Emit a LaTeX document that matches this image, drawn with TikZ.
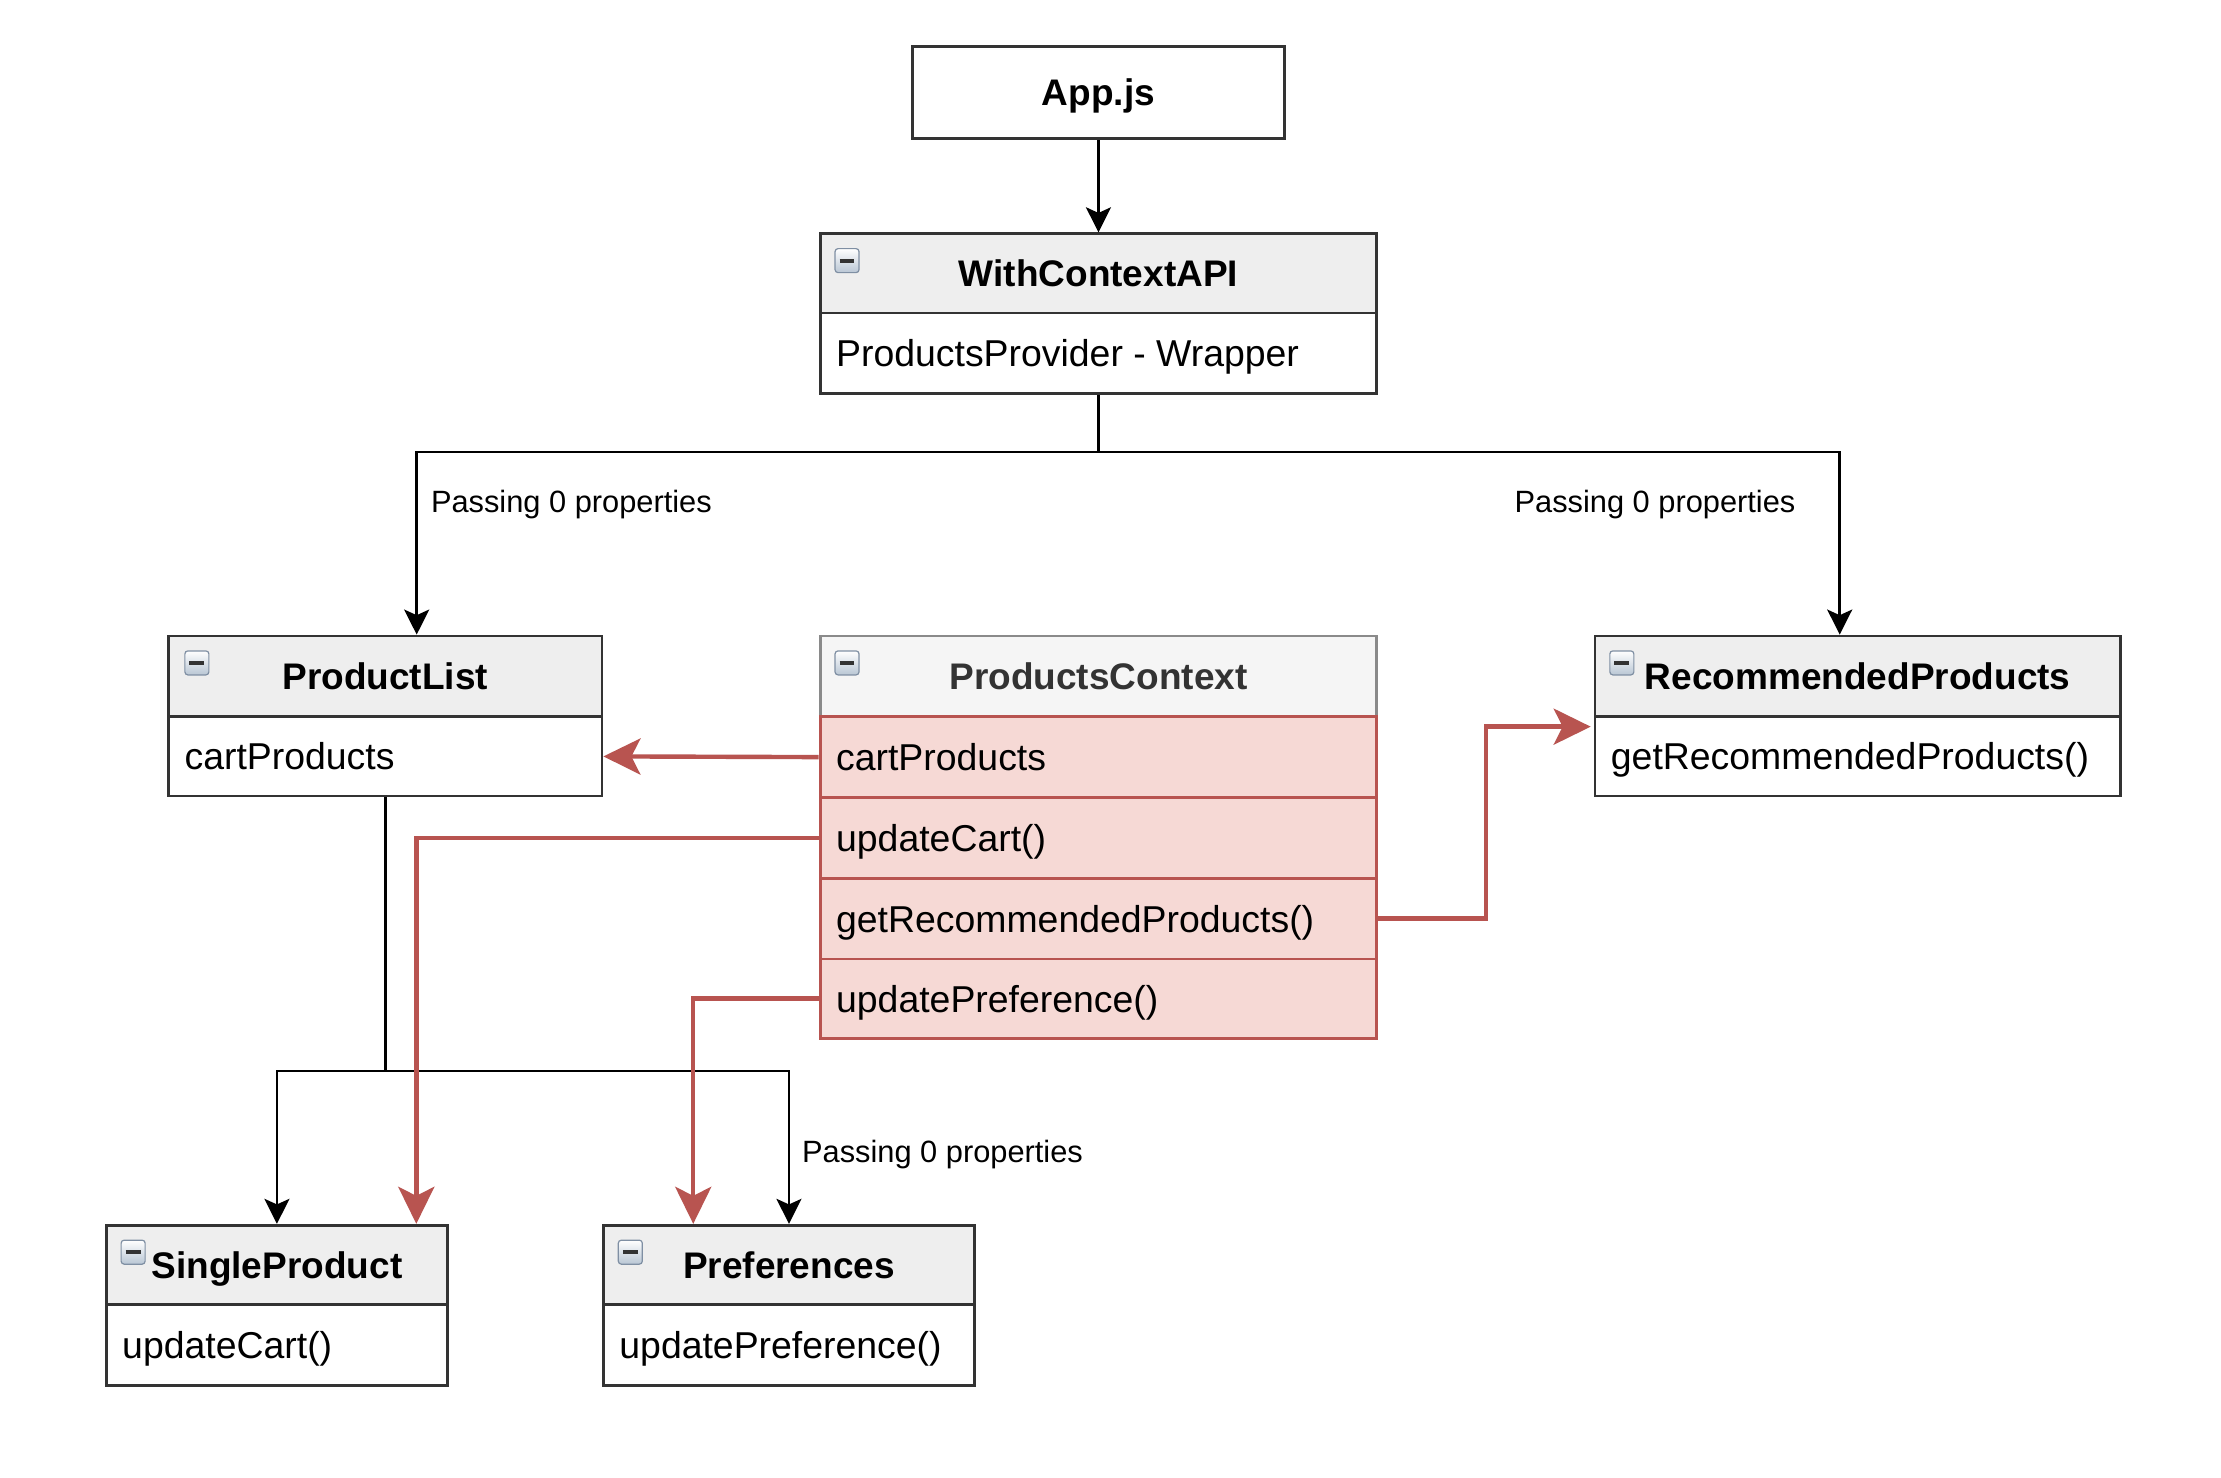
\documentclass[tikz,border=0pt]{standalone}
\usepackage{fontspec}
\setmainfont{Liberation Sans}
\usetikzlibrary{arrows.meta,calc,fit}
\definecolor{hdrgray}{HTML}{EEEEEE}
\definecolor{ctxhdr}{HTML}{F5F5F5}
\definecolor{ctxedge}{HTML}{8A8A8A}
\definecolor{ctxtext}{HTML}{333333}
\definecolor{ctxpink}{HTML}{F6D9D5}
\definecolor{ctxred}{HTML}{B85450}
\definecolor{boxline}{HTML}{333333}
\definecolor{iconblue}{HTML}{B9C6D4}
\definecolor{iconedge}{HTML}{7F8FA3}
\newlength\ulen \setlength\ulen{0.7082pt}
\begin{document}
\begin{tikzpicture}[x=\ulen, y=-\ulen,
  box/.style={draw=boxline, line width=1.4pt, inner sep=0pt},
  hdr/.style={box, fill=hdrgray},
  rowbox/.style={box, fill=white},
  ctxhead/.style={draw=ctxedge, line width=1.4pt, inner sep=0pt, fill=ctxhdr},
  ctxrow/.style={draw=ctxred, line width=1.4pt, inner sep=0pt, fill=ctxpink},
  title/.style={anchor=base, inner sep=0pt, font=\fontsize{18.5}{22}\selectfont\bfseries},
  rowtext/.style={anchor=base west, inner sep=0pt, font=\fontsize{18.7}{22}\selectfont},
  lbl/.style={anchor=base west, inner sep=0pt, font=\fontsize{15.4}{18}\selectfont},
  blk/.style={draw=black, line width=1.3pt, -{Stealth[length=12.5pt,width=12.5pt,inset=2.8pt]}},
  redarrow/.style={draw=ctxred, line width=2.2pt, -{Stealth[length=18.5pt,width=18pt,inset=4.5pt]}},
  minusicon/.style={draw=iconedge, line width=0.6pt, rounded corners=1.5pt, minimum width=12pt, minimum height=12pt, inner sep=0pt, top color=white, bottom color=iconblue,
    path picture={\draw[line width=2pt, black!80] ($(path picture bounding box.west)+(2.3pt,0)$) -- ($(path picture bounding box.east)+(-2.3pt,0)$);}}
]
\useasboundingbox[fill=white] (0,0) rectangle (1568,1043);

% App.js
\node[box, fill=white, fit={(644,33)(907,98)}] (app) {};
\node[title] (appT) at ($(app.center)+(0,9.3)$) {App.js};

% WithContextAPI
\node[hdr, fit={(579,165)(972,221)}] (wcaH) {};
\node[title] (wcaHT) at ($(wcaH.center)+(0,9.3)$) {WithContextAPI};
\node[rowbox, fit={(579,221)(972,278)}] (wcaR) {};
\node[rowtext] (wcaT) at ($(wcaR.west)+(12,9.5)$) {ProductsProvider - Wrapper};
\node[minusicon] (wcaI) at (598,184) {};

% ProductList
\node[hdr, fit={(119,449)(425,506)}] (plH) {};
\node[title] (plHT) at ($(plH.center)+(0,9.3)$) {ProductList};
\node[rowbox, fit={(119,506)(425,562)}] (plR) {};
\node[rowtext] (plT) at ($(plR.west)+(12,9.5)$) {cartProducts};
\node[minusicon] (plI) at (139,468) {};

% ProductsContext
\node[ctxhead, fit={(579,449)(972,506)}] (ctxH) {};
\node[title, text=ctxtext] (ctxHT) at ($(ctxH.center)+(0,9.3)$) {ProductsContext};
\node[ctxrow, fit={(579,506)(972,563)}] (ctx1) {};
\node[ctxrow, fit={(579,563)(972,620)}] (ctx2) {};
\node[ctxrow, fit={(579,620)(972,677)}] (ctx3) {};
\node[ctxrow, fit={(579,677)(972,733)}] (ctx4) {};
\node[rowtext] (ctx1T) at ($(ctx1.west)+(12,9.5)$) {cartProducts};
\node[rowtext] (ctx2T) at ($(ctx2.west)+(12,9.5)$) {updateCart()};
\node[rowtext] (ctx3T) at ($(ctx3.west)+(12,9.5)$) {getRecommendedProducts()};
\node[rowtext] (ctx4T) at ($(ctx4.west)+(12,9.5)$) {updatePreference()};
\node[minusicon] (ctxI) at (598,468) {};

% RecommendedProducts
\node[hdr, fit={(1126,449)(1497,506)}] (rpH) {};
\node[title] (rpHT) at ($(rpH.center)+(0,9.3)$) {RecommendedProducts};
\node[rowbox, fit={(1126,506)(1497,562)}] (rpR) {};
\node[rowtext] (rpT) at ($(rpR.west)+(12,9.5)$) {getRecommendedProducts()};
\node[minusicon] (rpI) at (1145,468) {};

% SingleProduct
\node[hdr, fit={(75,865)(316,921)}] (spH) {};
\node[title] (spHT) at ($(spH.center)+(0,9.3)$) {SingleProduct};
\node[rowbox, fit={(75,921)(316,978)}] (spR) {};
\node[rowtext] (spT) at ($(spR.west)+(12,9.5)$) {updateCart()};
\node[minusicon] (spI) at (94,884) {};

% Preferences
\node[hdr, fit={(426,865)(688,921)}] (prH) {};
\node[title] (prHT) at ($(prH.center)+(0,9.3)$) {Preferences};
\node[rowbox, fit={(426,921)(688,978)}] (prR) {};
\node[rowtext] (prT) at ($(prR.west)+(12,9.5)$) {updatePreference()};
\node[minusicon] (prI) at (445,884) {};

% Labels
\node[lbl] (lb1) at (304,362) {Passing 0 properties};
\node[lbl] (lb2) at (1069,362) {Passing 0 properties};
\node[lbl] (lb3) at (566,821) {Passing 0 properties};

% Black connectors
\draw[blk] (app.south) -- (wcaH.north);
\draw[blk] (wcaR.south) -- ++(0,40) -| ($(plH.north west)!0.572!(plH.north east)$);
\draw[blk] (wcaR.south) -- ++(0,40) -| ($(rpH.north west)!0.466!(rpH.north east)$);
\draw[blk] (plR.south) -- ++(0,193) -| (spH.north);
\draw[blk] (plR.south) -- ++(0,193) -| (prH.north);

% Red connectors
\draw[redarrow] (ctx1.west) -- (plR.east);
\draw[redarrow] (ctx2.west) -| ($(spH.north west)!0.905!(spH.north east)$);
\draw[redarrow] (ctx3.east) -- ++(76,0) |- ($(rpR.north west)+(-2,8)$);
\draw[redarrow] (ctx4.west) -| ($(prH.north west)!0.244!(prH.north east)$);
\end{tikzpicture}
\end{document}
